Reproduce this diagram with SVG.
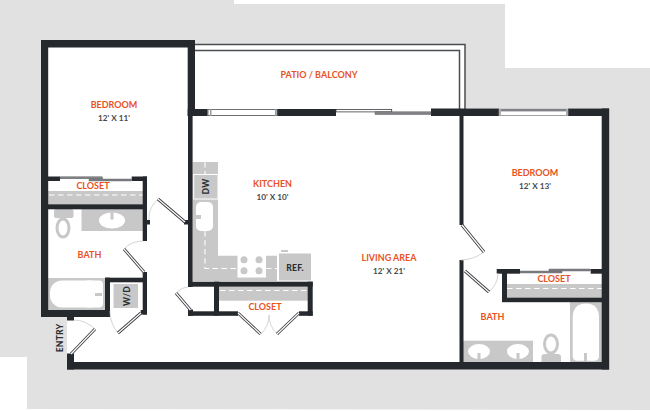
<svg xmlns="http://www.w3.org/2000/svg" width="650" height="411" viewBox="0 0 650 411">
<style>
.w{fill:#25282c}
.g{fill:#c8c8c8}
.wh{fill:#fff}
.dash{stroke:#fff;stroke-width:1.1;stroke-dasharray:5.5 3.5;fill:none}
.arc{fill:none;stroke:#cfcfcf;stroke-width:.9}
.do{stroke:#3a3d41;stroke-width:3;fill:none}
.di{stroke:#fff;stroke-width:1.2;fill:none}
.rail{fill:#808285;stroke:#55585b;stroke-width:.4}
.rail2{stroke:#4a4d50;stroke-width:1.5;fill:none}
text{font-family:Lato,"Open Sans","Liberation Sans",sans-serif;text-anchor:middle}
.o{fill:#e8521f;font-weight:700;font-size:9px;letter-spacing:0}
.d{fill:#46494d;font-weight:700;font-size:8.2px;letter-spacing:0}
.k{fill:#2b2e32;font-weight:900;font-size:8.6px;letter-spacing:.2px}
</style>
<rect width="650" height="411" fill="#fff"/>
<polygon id="backdrop" fill="#e1e1e1" points="0,0 234,0 234,4 505,4 505,68 650,68 650,410 27,409 27,357 0,357"/>
<polygon id="floor" fill="#fff" points="41,40 195,40 195,44 465,44 465,108 609,108 609,369 67,369 67,317 41,317"/>

<g id="patio-rail">
<polyline class="rail2" points="195,44.500 465,44.500 465,109"/>
<polyline class="rail2" points="195,50.500 459.500,50.500 459.500,109"/>
</g>

<g id="fixtures">
<g id="closet-1-shelf"><rect class="g" x="48" y="191" width="95" height="13.500"/><line class="dash" x1="49" y1="195" x2="143" y2="195"/></g>
<g id="bath-1-fixtures">
<rect class="g" x="54" y="209" width="19.500" height="9" rx="2"/>
<ellipse cx="63" cy="228" rx="6" ry="9" fill="#fff" stroke="#c8c8c8" stroke-width="3"/>
<rect class="g" x="81.500" y="209" width="61.500" height="22"/>
<ellipse class="wh" cx="112" cy="220.500" rx="13" ry="8"/>
<rect class="g" x="110.500" y="210" width="3" height="9.500"/>
<rect class="g" x="48" y="278" width="57" height="32"/>
<rect class="wh" x="50" y="280.500" width="53" height="27" rx="12"/>
<rect class="wh" x="84" y="280.500" width="19" height="27" rx="4"/>
<rect class="g" x="95" y="293" width="7" height="3"/>
<rect class="g" x="113.500" y="284" width="24.500" height="24"/>
</g>
<g id="kitchen-fixtures">
<polygon class="g" points="192.600,162 218,162 218,255.700 277,255.700 277,281 192.600,281"/>
<rect class="g" x="193.700" y="174.500" width="24.300" height="24.500" stroke="#fff" stroke-width="1"/>
<rect class="wh" x="196" y="202" width="17" height="29" rx="5"/>
<rect class="g" x="194" y="215" width="7" height="4"/>
<line class="dash" x1="205" y1="162" x2="205" y2="174"/>
<polyline class="dash" points="205,231 205,268.500 238,268.500"/>
<line class="dash" x1="266" y1="268.500" x2="277" y2="268.500"/>
<rect class="wh" x="237.500" y="252" width="28.500" height="25.500"/>
<circle class="g" cx="244" cy="259.700" r="3.500"/><circle class="g" cx="259" cy="259.700" r="3.500"/>
<circle class="g" cx="244" cy="270.700" r="3.500"/><circle class="g" cx="259" cy="270.700" r="3.500"/>
<rect class="g" x="279" y="253.500" width="32" height="27"/>
<rect class="g" x="281" y="250" width="7" height="2"/>
</g>
<g id="kitchen-closet-shelf"><rect class="g" x="219" y="287" width="89" height="13.700"/><line class="dash" x1="220" y1="290.500" x2="308" y2="290.500"/></g>
<g id="closet-2-shelf"><rect class="g" x="507" y="284" width="95" height="14"/><line class="dash" x1="507" y1="288.500" x2="602" y2="288.500"/></g>
<g id="bath-2-fixtures">
<rect class="g" x="463" y="340.700" width="70" height="21.500"/>
<ellipse class="wh" cx="479" cy="351.500" rx="11" ry="7.500"/><ellipse class="wh" cx="518" cy="351.500" rx="11" ry="7.500"/>
<rect class="g" x="477.500" y="353" width="3" height="9"/><rect class="g" x="516.500" y="353" width="3" height="9"/>
<ellipse cx="551" cy="344" rx="6.500" ry="9" fill="#fff" stroke="#c8c8c8" stroke-width="3"/>
<path class="g" d="M541.500,362V357Q541.500,354 545,354H558Q561,354 561,357V362Z"/>
<rect class="g" x="570" y="302" width="32" height="60.500"/>
<path class="wh" d="M572.700,318Q572.700,303.500 586,303.500Q599,303.500 599,318V356Q599,360.700 594,360.700H577.500Q572.700,360.700 572.700,356Z"/>
<rect class="g" x="584" y="353" width="3" height="8"/>
</g>
</g>

<g id="walls" class="w">
<rect x="41" y="40" width="154" height="7.500"/>
<rect x="41" y="40" width="7.200" height="277"/>
<rect x="187.700" y="40" width="7.300" height="76"/>
<rect x="187.700" y="109" width="20" height="7"/>
<rect x="277" y="109" width="59" height="7"/>
<rect x="431" y="108.500" width="68" height="7.500"/>
<rect x="568" y="108.500" width="41" height="7.500"/>
<rect x="601.700" y="108.500" width="7.500" height="261"/>
<rect x="67" y="362" width="542" height="7.500"/>
<rect x="67" y="353.500" width="7" height="16"/>
<rect x="188" y="116" width="4.600" height="171"/>
<rect x="459.500" y="116" width="4" height="109"/>
<rect x="459.500" y="260" width="4" height="102"/>
<rect x="41" y="310" width="69" height="7"/>
<rect x="67" y="317" width="7" height="3.500"/>
<rect x="48" y="176.500" width="12" height="4.500"/>
<rect x="131.700" y="176.500" width="15.300" height="4.500"/>
<rect x="142.700" y="176.500" width="4.300" height="64.500"/>
<rect x="48" y="204.300" width="99" height="5"/>
<rect x="147" y="220" width="3" height="4.500"/>
<rect x="142.700" y="272" width="4.300" height="42.500"/>
<rect x="140.700" y="310" width="6.300" height="4.500"/>
<rect x="105" y="277.700" width="42" height="4.600"/>
<rect x="105" y="277.700" width="5" height="39"/>
<rect x="184" y="220" width="5" height="4.500"/>
<rect x="188" y="281.700" width="124.700" height="5"/>
<rect x="307.700" y="281.700" width="5" height="34"/>
<rect x="214" y="281.700" width="5" height="34"/>
<rect x="188" y="311.300" width="50" height="4.500"/>
<rect x="188" y="309.500" width="5" height="6.300"/>
<rect x="299" y="311.300" width="13.700" height="4.500"/>
<rect x="496.700" y="269" width="23.300" height="4.700"/>
<rect x="590.700" y="269" width="11.300" height="4.700"/>
<rect x="502" y="269" width="5" height="33"/>
<rect x="502" y="297.700" width="100" height="4.500"/>
</g>

<g id="windows">
<g id="window-1"><rect x="208" y="109.500" width="69" height="6" fill="#fff" stroke="#6e7073" stroke-width="1"/><rect x="210" y="109" width="1.500" height="7" fill="#9a9a9a"/><rect x="275" y="109" width="1.500" height="7" fill="#9a9a9a"/></g>
<g id="sliding-door"><rect x="336" y="109.500" width="55.700" height="2.400" fill="#fff" stroke="#3a3d41" stroke-width=".8"/><rect class="rail" x="375" y="111.800" width="56" height="2.800"/></g>
<g id="window-2"><rect x="499" y="109" width="69" height="6.500" fill="#fff" stroke="#8a8a8a" stroke-width=".8"/><rect x="501" y="109" width="65" height="2.400" fill="#808285"/><rect x="499" y="109" width="2" height="7" fill="#aaa"/><rect x="566" y="109" width="2" height="7" fill="#aaa"/></g>
<g id="closet-1-slider"><rect class="rail" x="60" y="176.800" width="42.500" height="2"/><rect class="rail" x="89" y="179" width="42.700" height="2"/></g>
<g id="closet-2-slider"><rect class="rail" x="520" y="271" width="42" height="2"/><rect class="rail" x="549" y="269" width="41.700" height="2"/></g>
</g>

<g id="connectors">
<path class="arc" d="M158,199Q148,208 149,220"/>
<line class="do" x1="158" y1="199" x2="185" y2="222"/><line class="di" x1="158" y1="199" x2="185" y2="222"/>
<path class="arc" d="M124,249Q131,241 143,241"/>
<line class="do" x1="124" y1="249" x2="144" y2="272"/><line class="di" x1="124" y1="249" x2="144" y2="272"/>
<path class="arc" d="M118,333Q110,324 110,311"/>
<line class="do" x1="141" y1="313" x2="118" y2="333"/><line class="di" x1="141" y1="313" x2="118" y2="333"/>
<path class="arc" d="M95,329Q85,320 74,320"/>
<line class="do" x1="71" y1="354" x2="95" y2="329"/><line class="di" x1="71" y1="354" x2="95" y2="329"/>
<path class="arc" d="M176,293Q181,287 188,287"/>
<line class="do" x1="176" y1="293" x2="190.500" y2="310"/><line class="di" x1="176" y1="293" x2="190.500" y2="310"/>
<path class="arc" d="M261,334Q269,326 269,315"/><path class="arc" d="M277,334Q269,326 269,315"/>
<line class="do" x1="238" y1="313" x2="260.500" y2="334"/><line class="di" x1="238" y1="313" x2="260.500" y2="334"/>
<line class="do" x1="299" y1="313" x2="277" y2="334"/><line class="di" x1="299" y1="313" x2="277" y2="334"/>
<path class="arc" d="M484,252Q473,260 461,260"/>
<line class="do" x1="462" y1="225" x2="484" y2="252"/><line class="di" x1="462" y1="225" x2="484" y2="252"/>
<path class="arc" d="M489,292Q498,284 498,273"/>
<line class="do" x1="465" y1="271" x2="489" y2="292"/><line class="di" x1="465" y1="271" x2="489" y2="292"/>
</g>

<g id="bedroom-1"><text class="o" x="114" y="108">BEDROOM</text><text class="d" x="114" y="120.500">12' X 11'</text></g>
<g id="closet-1"><text class="o" x="93" y="189">CLOSET</text></g>
<g id="bath-1"><text class="o" x="89.500" y="258">BATH</text></g>
<g id="washer-dryer"><text class="k" transform="translate(129.500,296) rotate(-90)">W/D</text></g>
<g id="entry"><text class="k" transform="translate(63,338) rotate(-90)">ENTRY</text></g>
<g id="patio"><text class="o" x="319" y="78">PATIO / BALCONY</text></g>
<g id="dishwasher"><text class="k" transform="translate(209,186.500) rotate(-90)">DW</text></g>
<g id="kitchen"><text class="o" x="272.500" y="187">KITCHEN</text><text class="d" x="272.500" y="199.500">10' X 10'</text></g>
<g id="refrigerator"><text class="k" x="295" y="271">REF.</text></g>
<g id="closet-3"><text class="o" x="265" y="310">CLOSET</text></g>
<g id="living-area"><text class="o" x="389" y="261">LIVING AREA</text><text class="d" x="389" y="273.500">12' X 21'</text></g>
<g id="bedroom-2"><text class="o" x="535" y="176">BEDROOM</text><text class="d" x="535" y="188.500">12' X 13'</text></g>
<g id="closet-2"><text class="o" x="554" y="282">CLOSET</text></g>
<g id="bath-2"><text class="o" x="492.500" y="320">BATH</text></g>
</svg>
